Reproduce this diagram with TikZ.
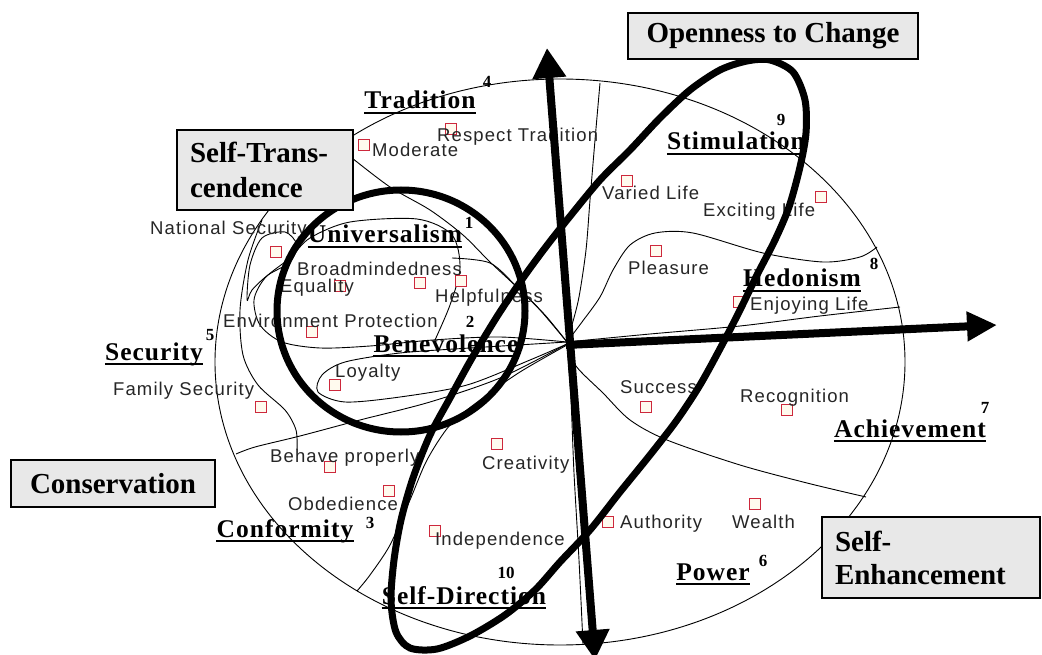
\documentclass[tikz,border=0pt]{standalone}
\usepackage{fontspec}
\setmainfont{Liberation Serif}
\newfontfamily\valfont[LetterSpace=6]{Liberation Sans}
\newfontfamily\labfont[LetterSpace=4]{Liberation Serif}
\usetikzlibrary{arrows.meta}
\definecolor{boxgray}{RGB}{232,232,232}
\definecolor{sqred}{RGB}{205,40,60}
\definecolor{sqfill}{RGB}{255,250,238}
\begin{document}
\begin{tikzpicture}[x=1pt,y=-1pt,
  bound/.style={line width=0.9pt, black},
  heavy/.style={line width=7pt, black},
  axis/.style={line width=8pt, black},
  valsq/.style={draw=sqred, fill=sqfill, line width=1.2pt, minimum size=11pt, inner sep=0pt},
  val/.style={font=\valfont\fontsize{18.5}{20}\selectfont, anchor=base west, inner sep=0pt, text=black!85},
  dimlab/.style={font=\labfont\bfseries\fontsize{25.5}{28}\selectfont, anchor=base, inner sep=0pt},
  num/.style={font=\bfseries\fontsize{17}{19}\selectfont, anchor=base, inner sep=0pt},
  bigbox/.style={draw, line width=2pt, fill=boxgray, font=\bfseries\fontsize{29}{34}\selectfont, inner sep=0pt}
]
\useasboundingbox (0,0) rectangle (1042,655);
\fill[white] (0,0) rectangle (1042,655);

% ---- outer ellipse and region boundaries ----
\draw[bound] (560,362) ellipse [x radius=345pt, y radius=283pt];
\coordinate (ctr) at (567,343);
% self-trans box to centre
\draw[bound] plot[smooth] coordinates {(352,158) (390,187) (430,210) (463,235) (490,262) (520,290) (545,315) (567,342)};
% tradition / stimulation
\draw[bound] plot[smooth] coordinates {(600,83) (595,140) (590,200) (586,250) (579,297) (572,325) (567,342)};
% pleasure / hedonism
\draw[bound] plot[smooth] coordinates {(567,342) (582,322) (600,297) (613,270) (630,245) (655,233) (693,233) (763,253) (823,262) (860,257) (877,247)};
% hedonism lower
\draw[bound] plot[smooth] coordinates {(567,342) (650,334) (740,326) (820,316) (900,307)};
% achievement / power
\draw[bound] plot[smooth] coordinates {(567,342) (576,366) (603,393) (630,420) (667,440) (740,465) (807,483) (866,497)};
% power / self-direction
\draw[bound] plot[smooth] coordinates {(567,342) (571,400) (574,473) (579,560) (583,644)};
% conformity / self-direction
\draw[bound] plot[smooth] coordinates {(567,345) (520,372) (480,400) (450,425) (427,460) (410,500) (390,545) (370,575) (357,591)};
% conformity top
\draw[bound] plot[smooth] coordinates {(567,344) (500,378) (430,402) (360,420) (300,436) (255,447) (236,454)};
% loyalty loop
\draw[bound] plot[smooth] coordinates {(567,344) (530,360) (467,385) (400,397) (345,402) (318,392) (322,375) (345,362) (400,353) (470,348) (567,342)};
% universalism loop
\draw[bound] plot[smooth] coordinates {(567,342) (500,337) (433,340) (370,346) (320,348) (282,342) (260,325) (254,300) (265,278) (290,258) (310,238) (350,222) (417,219) (452,235) (460,268) (450,305) (435,340)};
% helpfulness
\draw[bound] plot[smooth] coordinates {(452,258) (490,263) (517,287) (540,310) (567,342)};
% national security loop
\draw[bound] plot[smooth cycle] coordinates {(247,300) (250,265) (262,238) (285,232) (297,245) (290,262) (268,275) (252,290)};
% family security boundary
\draw[bound] plot[smooth] coordinates {(262,220) (248,260) (240,310) (243,355) (258,385) (285,410) (296,430) (297,450)};

% ---- value squares ----
\node[valsq] (sqmod) at (364,145) {};
\node[valsq] (sqrt) at (451,129) {};
\node[valsq] (sqns) at (276,252) {};
\node[valsq] (sqbm) at (420,283) {};
\node[valsq] (sqeq) at (340,286) {};
\node[valsq] (sqhe) at (461,281) {};
\node[valsq] (sqep) at (312,332) {};
\node[valsq] (sqlo) at (335,385) {};
\node[valsq] (sqfs) at (261,407) {};
\node[valsq] (sqvl) at (627,181) {};
\node[valsq] (sqel) at (821,197) {};
\node[valsq] (sqpl) at (656,251) {};
\node[valsq] (sqen) at (739,302) {};
\node[valsq] (sqsu) at (646,407) {};
\node[valsq] (sqre) at (787,410) {};
\node[valsq] (sqbp) at (330,467) {};
\node[valsq] (sqcr) at (497,444) {};
\node[valsq] (sqob) at (389,491) {};
\node[valsq] (sqin) at (435,531) {};
\node[valsq] (sqau) at (608,522) {};
\node[valsq] (sqwe) at (755,504) {};

% ---- value labels ----
\node[val] (tmod) at (372,157) {Moderate};
\node[val] (trt) at (437,142) {Respect Tradition};
\node[val] (tns) at (150,235) {National Security};
\node[val] (tbm) at (297,276) {Broadmindedness};
\node[val] (teq) at (280,293) {Equality};
\node[val] (the) at (435,302) {Helpfulness};
\node[val] (tep) at (223,327) {Environment Protection};
\node[val] (tlo) at (335,377) {Loyalty};
\node[val] (tfs) at (113,395) {Family Security};
\node[val] (tvl) at (602,200) {Varied Life};
\node[val] (tel) at (703,217) {Exciting Life};
\node[val] (tpl) at (628,275) {Pleasure};
\node[val] (ten) at (750,310) {Enjoying Life};
\node[val] (tsu) at (620,393) {Success};
\node[val] (tre) at (740,402) {Recognition};
\node[val] (tbp) at (270,462) {Behave properly};
\node[val] (tcr) at (482,469) {Creativity};
\node[val] (tob) at (288,510) {Obdedience};
\node[val] (tin) at (435,545) {Independence};
\node[val] (tau) at (620,528) {Authority};
\node[val] (twe) at (732,528) {Wealth};

% ---- value type labels ----
\node[dimlab] (trad) at (420,109) {Tradition};
\node[num] (n4) at (487,88) {4};
\node[dimlab] (univ) at (385,243) {Universalism};
\node[num] (n1) at (469,229) {1};
\node[dimlab] (bene) at (446,352) {Benevolence};
\node[num] (n2) at (470,327) {2};
\node[dimlab] (secu) at (154,360) {Security};
\node[num] (n5) at (210,340) {5};
\node[dimlab] (stim) at (736,150) {Stimulation};
\node[num] (n9) at (781,126) {9};
\node[dimlab] (hedo) at (802,287) {Hedonism};
\node[num] (n8) at (874,270) {8};
\node[dimlab] (achi) at (910,437) {Achievement};
\node[num] (n7) at (985,413) {7};
\node[dimlab] (powe) at (713,580) {Power};
\node[num] (n6) at (763,566) {6};
\node[dimlab] (conf) at (285,537) {Conformity};
\node[num] (n3) at (370,528) {3};
\node[dimlab] (sdir) at (464,604) {Self-Direction};
\node[num] (n10) at (506,578) {10};
\foreach \n in {trad,univ,bene,secu,stim,hedo,achi,powe,conf,sdir}
  \draw[line width=1.8pt] ([yshift=-4pt]\n.base west) -- ([yshift=-4pt]\n.base east);

% ---- thick shapes ----
\draw[heavy] (401,311) ellipse [x radius=124pt, y radius=121pt];
\draw[heavy] plot[smooth cycle] coordinates {(770,60) (793,72) (805,100) (806,133) (800,167) (789,207) (775,240) (757,275) (740,310) (722,345) (700,385) (677,420) (650,455) (620,492) (590,530) (560,562) (535,590) (505,615) (470,636) (437,649) (410,648) (396,632) (391,600) (394,560) (401,520) (413,478) (430,435) (450,398) (472,358) (498,315) (523,278) (545,248) (567,220) (600,180) (630,150) (660,118) (690,90) (720,70) (747,61)};

% ---- axes ----
\coordinate (vtop) at (547,48);
\coordinate (vbot) at (595,660);
\coordinate (htip) at (997,325);
\coordinate (hstart) at (566,345);
\draw[axis, {Triangle[length=30pt,width=32pt]}-{Triangle[length=30pt,width=32pt]}] (vbot) -- (vtop);
\draw[axis, -{Triangle[length=30pt,width=28pt]}] (hstart) -- (htip);

% ---- boxes ----
\node[bigbox, minimum width=290pt, minimum height=46pt] (open) at (773,36) {Openness to Change};
\node[bigbox, minimum width=176pt, minimum height=80pt, text width=150pt, align=left, font=\bfseries\fontsize{29}{35}\selectfont] (strans) at (265,170) {Self-Trans-\\cendence};
\node[bigbox, minimum width=204pt, minimum height=47pt] (cons) at (113,483.5) {Conservation};
\node[bigbox, minimum width=218pt, minimum height=81pt, text width=192pt, align=left, font=\bfseries\fontsize{29}{33}\selectfont] (senh) at (931,557.5) {Self-\\Enhancement};
\end{tikzpicture}
\end{document}
